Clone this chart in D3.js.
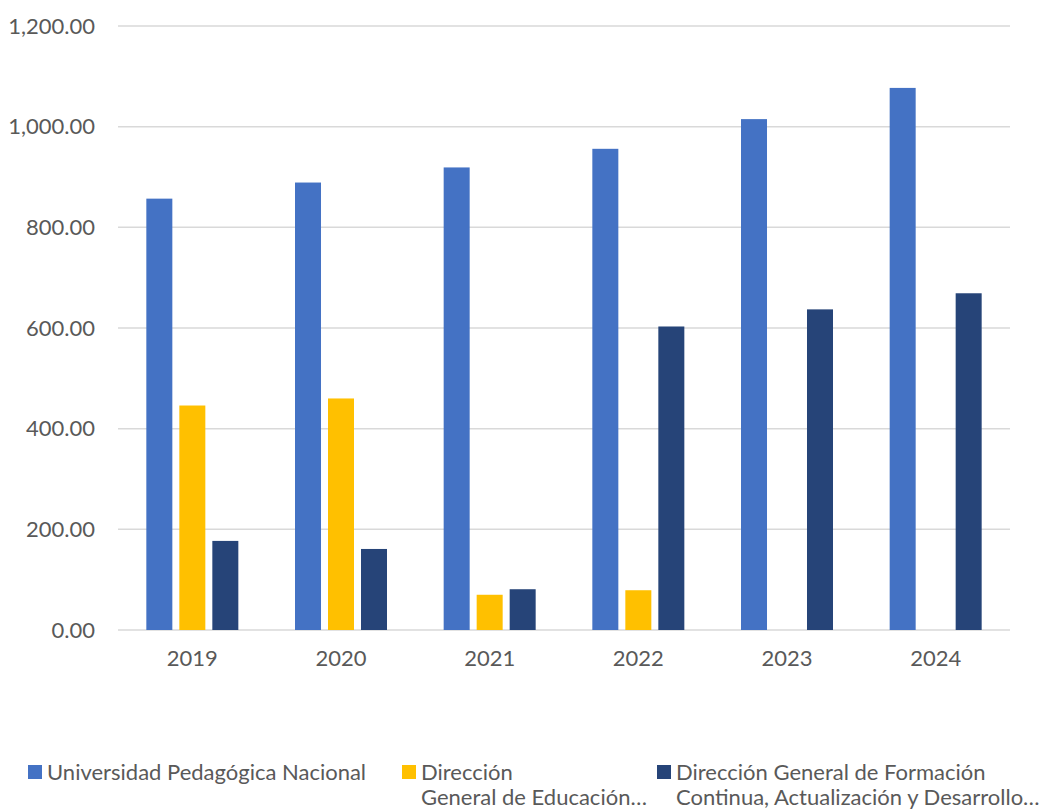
<!DOCTYPE html>
<html>
<head>
<meta charset="utf-8">
<script src="https://cdn.jsdelivr.net/npm/d3@7"></script>
<style>
  body { margin: 0; background: #fff; }
  text { font-family: Lato, "Open Sans", sans-serif; fill: #595959; }
</style>
</head>
<body>
<div id="chart"></div>
<script>
// chart data
let years = ["2019", "2020", "2021", "2022", "2023", "2024"];
let seriesKeys = ["upn", "dge", "dgf"];
let seriesLabels = [
  ["Universidad Pedagógica Nacional"],
  ["Dirección", "General de Educación…"],
  ["Dirección General de Formación", "Continua, Actualización y Desarrollo…"]
];
let seriesColors = ["#4472C4", "#FFC000", "#264478"];
let upnValues = [857, 889, 919, 956, 1015, 1077];
let dgeValues = [446, 460, 70, 79, null, null];
let dgfValues = [177, 161, 81, 603, 637, 669];
let yTicks = [0, 200, 400, 600, 800, 1000, 1200];

let width = 1040;
let height = 810;
let margin = { top: 26, right: 30, bottom: 180, left: 118 };
let fontSize = 22;

let svg = d3.select("#chart")
  .append("svg")
  .attr("width", width)
  .attr("height", height);

// scales
let x = d3.scaleBand()
  .domain(years)
  .range([margin.left, width - margin.right])
  .paddingInner(0)
  .paddingOuter(0);

let xInner = d3.scaleBand()
  .domain(seriesKeys)
  .range([-46, 46])
  .paddingInner(0.212)
  .paddingOuter(0);

let y = d3.scaleLinear()
  .domain([0, 1200])
  .range([height - margin.bottom, margin.top]);

// gridlines
svg.append("g")
  .selectAll("line")
  .data(yTicks)
  .enter()
  .append("line")
  .attr("x1", margin.left)
  .attr("x2", width - margin.right)
  .attr("y1", d => y(d))
  .attr("y2", d => y(d))
  .attr("stroke", "#d9d9d9")
  .attr("stroke-width", 1.5);

// y axis labels
let yAxis = d3.axisLeft(y)
  .tickValues(yTicks)
  .tickSize(0)
  .tickPadding(0)
  .tickFormat(d3.format(",.2f"));

let gy = svg.append("g")
  .attr("transform", `translate(95, 0)`)
  .call(yAxis);
gy.select(".domain").remove();
gy.selectAll("text")
  .attr("font-size", fontSize)
  .attr("fill", "#595959")
  .style("font-family", "Lato, sans-serif");

// x axis labels
let xAxis = d3.axisBottom(x).tickSize(0).tickPadding(0);
let gx = svg.append("g")
  .attr("transform", `translate(0, ${y(0) + 20})`)
  .call(xAxis);
gx.select(".domain").remove();
gx.selectAll("text")
  .attr("font-size", fontSize)
  .attr("fill", "#595959")
  .style("font-family", "Lato, sans-serif");

// bars
let arrSeries = [upnValues, dgeValues, dgfValues];
let rows = [];
years.forEach((yr, i) => {
  seriesKeys.forEach((k, j) => {
    let v = arrSeries[j][i];
    if (v != null) rows.push({ year: yr, key: k, value: v, color: seriesColors[j] });
  });
});

svg.append("g")
  .selectAll("rect")
  .data(rows)
  .enter()
  .append("rect")
  .attr("x", d => x(d.year) + x.bandwidth() / 2 + xInner(d.key))
  .attr("y", d => y(d.value))
  .attr("width", xInner.bandwidth())
  .attr("height", d => y(0) - y(d.value))
  .attr("fill", d => d.color);

// legend
let legendX = [28, 402, 657];
let legend = svg.append("g");
seriesKeys.forEach((k, j) => {
  let lg = legend.append("g").attr("transform", `translate(${legendX[j]}, 763)`);
  lg.append("rect")
    .attr("width", 14)
    .attr("height", 14)
    .attr("y", 2)
    .attr("fill", seriesColors[j]);
  seriesLabels[j].forEach((line, li) => {
    lg.append("text")
      .attr("x", 19)
      .attr("y", 17 + li * 25)
      .attr("font-size", fontSize)
      .text(line);
  });
});
</script>
</body>
</html>
